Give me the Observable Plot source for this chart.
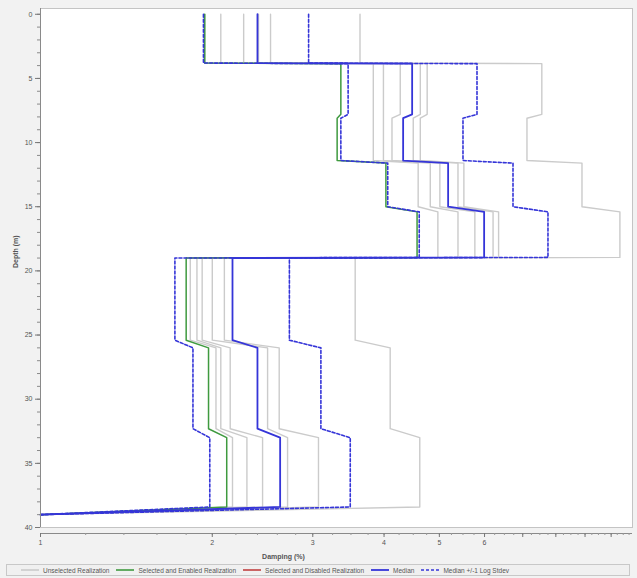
<!DOCTYPE html>
<html>
<head>
<meta charset="utf-8">
<script src="https://cdn.jsdelivr.net/npm/d3@7"></script>
<script src="https://cdn.jsdelivr.net/npm/@observablehq/plot@0.6"></script>
<style>
  html, body { margin: 0; padding: 0; background: #f2f2f2; }
  #wrap { width: 637px; height: 578px; position: relative; font-family: "Liberation Sans", Arial, sans-serif; }
  #legend { position: absolute; left: 6px; top: 564px; width: 624px; height: 12px; border: 1px solid #c8c8c8; background: #f0f0f0;
            display: flex; align-items: center; font-size: 6.5px; color: #555; box-sizing: border-box; padding-left: 14px; }
  .item { display: flex; align-items: center; margin-right: 7px; }
  .item svg { margin-right: 4px; }
</style>
</head>
<body>
<div id="wrap"><div id="chart"></div><div id="legend"></div></div>
<script>
// Layer depths (m)
const layerTop    = [0, 3.85, 8.1, 11.6, 15.4, 19.0, 26.0, 33.0];
const layerBottom = [3.8, 7.8, 11.4, 15.0, 18.95, 25.4, 32.3, 38.4];
const baseDepth = 39.0;
const baseDamping = 1.0;

// Damping (%) per layer
const unselected1 = [1.94, 3.83, 3.83, 4.59, 4.97, 1.83, 2.03, 2.17];
const unselected2 = [2.07, 3.99, 3.99, 4.82, 5.39, 1.88, 2.07, 2.30];
const unselected3 = [2.27, 4.27, 4.13, 5.01, 5.77, 1.92, 2.15, 2.45];
const unselected4 = [2.41, 4.63, 4.50, 5.39, 6.21, 2.00, 2.50, 2.71];
const unselected5 = [2.53, 4.76, 4.63, 5.52, 6.35, 2.10, 2.62, 3.07];
const unselected6 = [3.63, 7.56, 7.12, 8.89, 10.36, 3.56, 4.10, 4.62];
const selectedEnabled = [1.94, 3.36, 3.31, 4.03, 4.57, 1.80, 1.97, 2.12];
const median     = [2.40, 4.48, 4.32, 5.18, 5.99, 2.17, 2.40, 2.63];
const medianLow  = [1.93, 3.46, 3.36, 4.06, 4.61, 1.72, 1.85, 1.98];
const medianHigh = [2.95, 5.82, 5.50, 6.73, 7.75, 2.73, 3.10, 3.49];

// Axis ticks
const yMajor = [0, 5, 10, 15, 20, 25, 30, 35, 40];
const yMinor = d3.range(0, 41, 1);
const xMajor = [1, 2, 3, 4, 5, 6, 7, 8, 9, 10];
const xLabels = [1, 2, 3, 4, 5, 6];
const xMinor = [...d3.range(1, 3, 0.2), ...d3.range(3, 10.8, 0.25)];

function profile(vals, name) {
  const pts = [];
  vals.forEach((v, i) => {
    pts.push({d: layerTop[i], v, name});
    pts.push({d: layerBottom[i], v, name});
  });
  pts.push({d: baseDepth, v: baseDamping, name});
  return pts;
}

const grayData = [unselected1, unselected2, unselected3, unselected4, unselected5, unselected6]
  .flatMap((a, i) => profile(a, "u" + i));
const greenData = profile(selectedEnabled, "g");
const medData = profile(median, "m");
const bandData = [...profile(medianLow, "lo"), ...profile(medianHigh, "hi")];

const blue = "#3535d8";
const green = "#3f9a3f";
const gray = "#cbcbcb";

const chart = Plot.plot({
  width: 637,
  height: 562,
  marginTop: 8,
  marginBottom: 35,
  marginLeft: 40,
  marginRight: 5,
  style: {background: "transparent", fontFamily: "Liberation Sans, Arial, sans-serif"},
  x: {type: "log", domain: [1, 10.9], axis: null},
  y: {domain: [-0.45, 40], reverse: true, axis: null},
  marks: [
    Plot.frame({fill: "white", stroke: "#c4c4c4"}),
    Plot.line(grayData, {x: "v", y: "d", z: "name", stroke: gray, strokeWidth: 1.4}),
    Plot.line(greenData, {x: "v", y: "d", stroke: green, strokeWidth: 1.5}),
    Plot.line(medData, {x: "v", y: "d", stroke: blue, strokeWidth: 1.8}),
    Plot.line(bandData, {x: "v", y: "d", z: "name", stroke: blue, strokeWidth: 1.6, strokeDasharray: "3,2"}),
    // y axis
    Plot.ruleX([1], {stroke: "#8a8a8a"}),
    Plot.axisY({ticks: yMinor, tickSize: 3, tickFormat: () => "", label: null, stroke: "#8a8a8a"}),
    Plot.axisY({ticks: yMajor, tickSize: 5, tickPadding: 3, fontSize: 7, label: null, stroke: "#777", fill: "#555"}),
    Plot.text(["Depth (m)"], {frameAnchor: "left", rotate: -90, dx: -25, fontSize: 7, fontWeight: "bold", fill: "#555"}),
    // x axis
    Plot.ruleY([40], {dy: 6, stroke: "#8a8a8a"}),
    Plot.axisX({ticks: xMinor, tickSize: 2, tickFormat: () => "", label: null, dy: 6, stroke: "#999"}),
    Plot.axisX({ticks: xMajor, tickSize: 4, tickPadding: 3, fontSize: 7, label: null, dy: 6,
      tickFormat: d => xLabels.includes(d) ? String(d) : "", stroke: "#777", fill: "#555"}),
    Plot.text(["Damping (%)"], {frameAnchor: "bottom", dy: 31, dx: -53, fontSize: 7, fontWeight: "bold", fill: "#555"})
  ]
});
document.getElementById("chart").appendChild(chart);

// Legend
const legendItems = [
  {label: "Unselected Realization", color: gray, dash: null, w: 1.6},
  {label: "Selected and Enabled Realization", color: green, dash: null, w: 1.6},
  {label: "Selected and Disabled Realization", color: "#c04040", dash: null, w: 1.6},
  {label: "Median", color: blue, dash: null, w: 1.8},
  {label: "Median +/-1 Log Stdev", color: blue, dash: "3,2", w: 1.6}
];
const legend = document.getElementById("legend");
for (const it of legendItems) {
  const div = document.createElement("div");
  div.className = "item";
  div.innerHTML = `<svg width="18" height="6"><line x1="0" y1="3" x2="18" y2="3" stroke="${it.color}" stroke-width="${it.w}" ${it.dash ? `stroke-dasharray="${it.dash}"` : ""}/></svg><span>${it.label}</span>`;
  legend.appendChild(div);
}
</script>
</body>
</html>
